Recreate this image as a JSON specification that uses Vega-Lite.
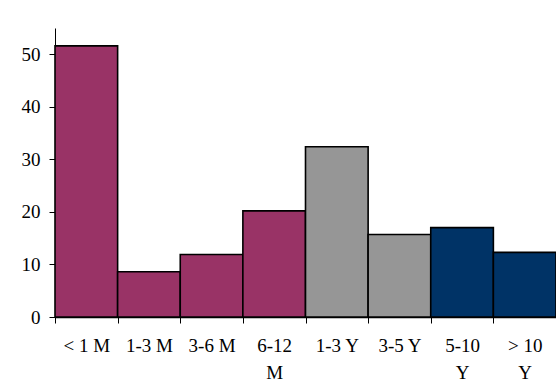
{
  "$schema": "https://vega.github.io/schema/vega-lite/v6.json",
  "width": 501,
  "height": 289,
  "autosize": {"type": "none"},
  "padding": {"left": 55, "top": 28, "right": 0, "bottom": 75},
  "background": "white",
  "config": {
    "view": {"stroke": null},
    "font": "Liberation Serif"
  },
  "data": {
    "values": [
      {"period": "< 1 M", "group": "Months", "value": 51.6},
      {"period": "1-3 M", "group": "Months", "value": 8.6},
      {"period": "3-6 M", "group": "Months", "value": 11.9},
      {"period": "6-12 M", "group": "Months", "value": 20.2},
      {"period": "1-3 Y", "group": "1-5 Years", "value": 32.4},
      {"period": "3-5 Y", "group": "1-5 Years", "value": 15.7},
      {"period": "5-10 Y", "group": "Over 5 Years", "value": 17.0},
      {"period": "> 10 Y", "group": "Over 5 Years", "value": 12.3}
    ]
  },
  "mark": {"type": "bar", "stroke": "black", "strokeWidth": 1.6},
  "encoding": {
    "x": {
      "field": "period",
      "type": "nominal",
      "sort": null,
      "scale": {"paddingInner": 0, "paddingOuter": 0},
      "axis": {
        "title": null,
        "labelAngle": 0,
        "tickBand": "extent",
        "domainColor": "black",
        "domainWidth": 1.5,
        "tickColor": "black",
        "tickSize": 6,
        "labelFontSize": 19,
        "labelColor": "black",
        "labelPadding": 13,
        "labelBaseline": "top",
        "labelLineHeight": 27,
        "labelLimit": 0,
        "labelExpr": "datum.label == '6-12 M' ? ['6-12', 'M'] : datum.label == '5-10 Y' ? ['5-10', 'Y'] : datum.label == '> 10 Y' ? ['> 10', 'Y'] : datum.label"
      }
    },
    "y": {
      "field": "value",
      "type": "quantitative",
      "scale": {"domain": [0, 55], "nice": false},
      "axis": {
        "title": null,
        "values": [0, 10, 20, 30, 40, 50],
        "grid": false,
        "domainColor": "black",
        "tickColor": "black",
        "tickSize": 6,
        "labelFontSize": 19,
        "labelColor": "black",
        "labelPadding": 9
      }
    },
    "color": {
      "field": "group",
      "type": "nominal",
      "scale": {
        "domain": ["Months", "1-5 Years", "Over 5 Years"],
        "range": ["#993366", "#969696", "#003366"]
      },
      "legend": null
    }
  }
}
